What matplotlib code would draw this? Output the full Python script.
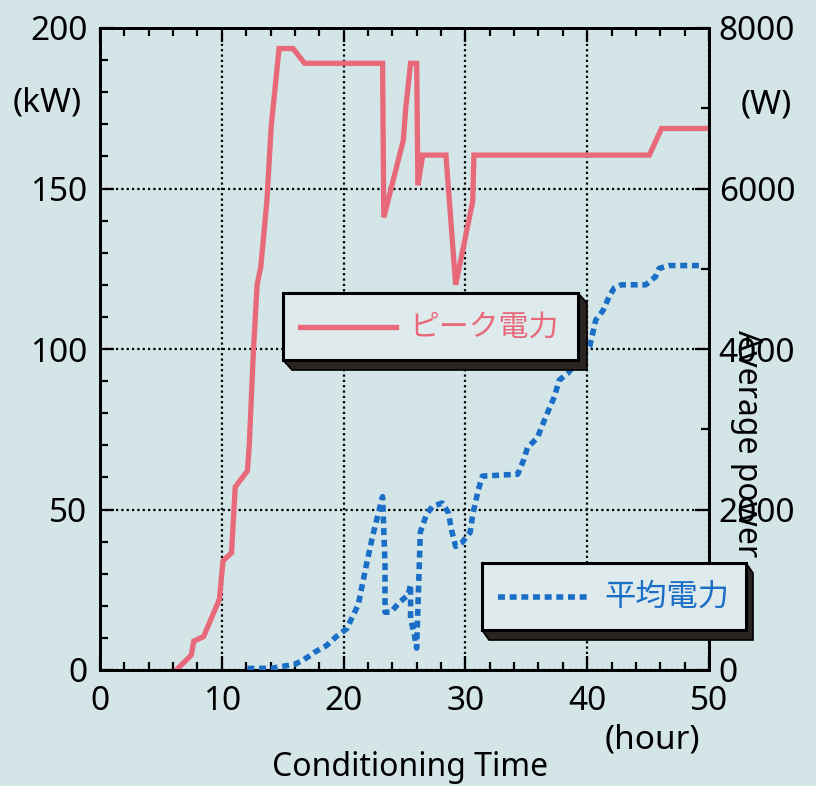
import matplotlib.pyplot as plt
from matplotlib.patches import Polygon, Rectangle
from matplotlib.lines import Line2D
from matplotlib.ticker import MultipleLocator

plt.rcParams["font.family"] = ["Noto Sans", "Noto Sans CJK JP", "DejaVu Sans"]

# peak power (kW)
peak_t = [6.4, 7.5, 7.7, 8.5, 9.8, 10.1, 10.8, 11.1, 12.1, 12.25, 12.6, 12.9,
          13.2, 13.7, 14.05, 14.7, 15.85, 16.8, 23.2, 23.3, 24.9, 25.1, 25.5,
          26.0, 26.1, 26.5, 28.4, 29.2, 30.6, 30.7, 45.1, 46.1, 50.0]
peak_kw = [0.5, 4.7, 9, 10.4, 22, 34, 36.5, 57, 62, 69.6, 99.7, 120,
           125.6, 146, 169, 193.6, 193.6, 189, 189, 141, 165, 175, 189,
           189, 151, 160.4, 160.4, 120, 146, 160.4, 160.4, 168.7, 168.7]

# average power (W)
avg_t = [12.1, 14.05, 16.0, 16.7, 17.6, 18.6, 19.4, 20.3, 20.6, 21.2, 21.9,
         22.4, 22.9, 23.2, 23.4, 23.4, 23.9, 24.5, 25.3, 25.5, 25.5, 25.8,
         26.0, 26.1, 26.3, 26.8, 27.3, 28.1, 28.6, 28.9, 29.2, 29.7, 30.4,
         30.6, 31.05, 31.4, 34.3, 34.8, 35.1, 35.9, 36.6, 37.3, 37.7, 38.4,
         40.2, 40.7, 41.3, 41.8, 42.2, 42.8, 44.8, 45.6, 45.9, 46.7, 49.5]
avg_w = [20, 20, 72, 124, 220, 304, 416, 520, 624, 812, 1332,
         1680, 1980, 2160, 1320, 720, 720, 832, 936, 1064, 640, 440,
         272, 772, 1720, 1936, 2040, 2080, 1960, 1720, 1540, 1584, 1720,
         1936, 2240, 2416, 2440, 2624, 2772, 2892, 3156, 3404, 3612, 3696,
         4028, 4360, 4480, 4652, 4756, 4800, 4800, 4900, 5004, 5040, 5040]

x_ticks = [0, 10, 20, 30, 40, 50]
kw_ticks = [0, 50, 100, 150, 200]
w_ticks = [0, 2000, 4000, 6000, 8000]

BG = "#d3e5e7"
RED = "#e8697a"
BLUE = "#1a6ec6"
SHADOW = "#2a2521"
FS = 24
DOTS = (0, (1.25, 0.85))

W_PX, H_PX = 816, 786
fig = plt.figure(figsize=(W_PX / 100, H_PX / 100), dpi=100, facecolor=BG)
ax = fig.add_axes([100 / W_PX, 1 - 670 / H_PX, 609 / W_PX, 642 / H_PX])
ax.set_facecolor(BG)
ax2 = ax.twinx()

ax.plot(peak_t, peak_kw, color=RED, lw=3.8, solid_joinstyle="miter", zorder=3)
ax2.plot(avg_t, avg_w, color=BLUE, lw=4.0, linestyle=DOTS,
         dash_capstyle="butt", zorder=3)

ax.set_xlim(0, 50)
ax.set_ylim(0, 200)
ax2.set_ylim(0, 8000)
ax.set_xticks(x_ticks)
ax.set_yticks(kw_ticks)
ax2.set_yticks(w_ticks)
ax.xaxis.set_minor_locator(MultipleLocator(2))
ax.yaxis.set_minor_locator(MultipleLocator(10))
ax2.yaxis.set_minor_locator(MultipleLocator(1000))

ax.tick_params(which="both", direction="in", top=True, right=False,
               width=1.6, labelsize=FS, colors="black")
ax.tick_params(which="major", length=10)
ax.tick_params(which="minor", length=6)
ax.tick_params(axis="x", pad=11)
ax.tick_params(axis="y", pad=9)
ax2.tick_params(which="both", direction="in", width=1.6, labelsize=FS, pad=7)
ax2.tick_params(which="major", length=10)
ax2.tick_params(which="minor", length=6)
for lab in ax2.get_yticklabels():
    lab.set_horizontalalignment("left")

ax.grid(which="major", color="black", linestyle=(0, (1, 1.4)), linewidth=1.6)
for a in (ax, ax2):
    for s in a.spines.values():
        s.set_linewidth(2.0)
        s.set_color("black")


def fx(px):
    return px / W_PX


def fy(py):
    return 1 - py / H_PX


fig.text(fx(47), fy(103), "(kW)", fontsize=FS, ha="center", va="center")
fig.text(fx(766), fy(105), "(W)", fontsize=FS, ha="center", va="center")
fig.text(fx(652), fy(740), "(hour)", fontsize=FS, ha="center", va="center")
fig.text(fx(410), fy(767), "Conditioning Time", fontsize=23, ha="center",
         va="center")
fig.text(fx(747), fy(330), "Average power", fontsize=23, rotation=-90,
         ha="center", va="top", zorder=1)


def legend_box(x0, y0, x1, y1, dx, dy):
    # dark extruded edge on the right and bottom, then the face
    shadow = Polygon([(fx(x0), fy(y1)), (fx(x0 + dx), fy(y1 + dy)),
                      (fx(x1 + dx), fy(y1 + dy)), (fx(x1 + dx), fy(y0 + dy)),
                      (fx(x1), fy(y0)), (fx(x1), fy(y1))],
                     closed=True, transform=fig.transFigure,
                     facecolor=SHADOW, edgecolor="black", lw=1.2, zorder=5)
    face = Rectangle((fx(x0), fy(y1)), fx(x1) - fx(x0), fy(y0) - fy(y1),
                     transform=fig.transFigure, facecolor="#dfeaec",
                     edgecolor="black", lw=2.2, zorder=6)
    fig.patches.extend([shadow, face])


legend_box(283, 293, 578, 360, 9, 10)
fig.lines.append(Line2D([fx(300), fx(396)], [fy(327), fy(327)], color=RED,
                        lw=3.8, transform=fig.transFigure, zorder=7))
fig.text(fx(409), fy(327), "ピーク電力", fontsize=21.5, color=RED, ha="left",
         va="center", family=["Noto Sans CJK JP"], zorder=7)

legend_box(482, 563, 746, 630, 7, 10)
fig.lines.append(Line2D([fx(498), fx(590)], [fy(597), fy(597)], color=BLUE,
                        lw=4.0, linestyle=DOTS, dash_capstyle="butt",
                        transform=fig.transFigure, zorder=7))
fig.text(fx(604), fy(597), "平均電力", fontsize=22.5, color=BLUE, ha="left",
         va="center", family=["Noto Sans CJK JP"], zorder=7)

fig.savefig("out.png", dpi=100, facecolor=BG)
